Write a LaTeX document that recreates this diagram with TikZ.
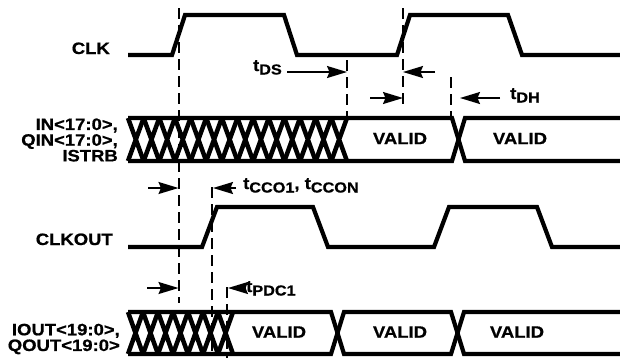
\documentclass[tikz,border=0pt]{standalone}
\usepackage{fontspec}
\setmainfont{Liberation Sans}[FakeStretch=1.12, BoldFeatures={FakeBold=0.8}]
\usetikzlibrary{arrows.meta}

\newcommand{\tname}[1]{t\raisebox{-3.5pt}{\fontsize{14.5}{14.5}\selectfont #1}}

\begin{document}
\begin{tikzpicture}[x=1pt,y=-1pt,
    signal/.style={line width=4.2pt},
    hatch/.style={line width=4.5pt},
    guide/.style={line width=2pt, dash pattern=on 11pt off 6pt},
    dimarrow/.style={line width=1.6pt, -{Stealth[length=20pt,width=12pt,inset=2.5pt]}},
    every node/.style={font=\fontsize{16.5}{15.7}\selectfont\bfseries, inner sep=0pt}]
    \useasboundingbox (0,0) rectangle (620,360);

    % Signal names
    \node[anchor=base east] (clkname) at (110,54) {CLK};
    \node[anchor=east, align=right] (inname) at (118,140) {IN<17:0>,\\QIN<17:0>,\\ISTRB};
    \node[anchor=base east] (clkoutname) at (113,245) {CLKOUT};
    \node[anchor=east, align=right] (outname) at (120,339) {IOUT<19:0>,\\QOUT<19:0>};

    % CLK
    \draw[signal] (128,55) -- (172,55) -- (185,15) -- (284,15) -- (297,55) -- (397,55)
        -- (410,15) -- (508,15) -- (522,55) -- (620,55);

    % IN bus
    \draw[signal] (128,118) -- (452,118) -- (465,161) -- (620,161);
    \draw[signal] (128,161) -- (452,161) -- (465,118) -- (620,118);
    \foreach \i in {0,...,13}
        \draw[hatch] ({128+\i*15.64},118) -- ({128+(\i+1)*15.64},161)
            ({128+\i*15.64},161) -- ({128+(\i+1)*15.64},118);
    \node (invalid1) at (400,138.5) {VALID};
    \node (invalid2) at (520,138.5) {VALID};

    % CLKOUT
    \draw[signal] (128,247) -- (202,247) -- (217,207) -- (313,207) -- (328,247) -- (434,247)
        -- (449,207) -- (537,207) -- (552,247) -- (620,247);

    % IOUT bus
    \draw[signal] (128,312) -- (331,312) -- (344,354) -- (451,354) -- (464,312) -- (620,312);
    \draw[signal] (128,354) -- (331,354) -- (344,312) -- (451,312) -- (464,354) -- (620,354);
    \foreach \i in {0,...,6}
        \draw[hatch] ({128+\i*15},312) -- ({128+(\i+1)*15},354)
            ({128+\i*15},354) -- ({128+(\i+1)*15},312);
    \node (outvalid1) at (279,332) {VALID};
    \node (outvalid2) at (400,332) {VALID};
    \node (outvalid3) at (517,332) {VALID};

    % Guide lines
    \draw[guide] (178.5,8) -- (178.5,303);
    \draw[guide] (403,8) -- (403,108);
    \draw[guide] (347,60) -- (347,117);
    \draw[guide] (451,77) -- (451,117);
    \draw[guide] (212,187) -- (212,352);
    \draw[guide] (227,287) -- (227,358);

    % Timing labels
    \node[anchor=base east] (tds) at (282,71) {\tname{DS}};
    \node[anchor=base west] (tdh) at (510,99) {\tname{DH}};
    \node[anchor=base west] (tcco) at (243,189) {\tname{CCO1}, \tname{CCON}};
    \node[anchor=base west] (tpdc) at (246,292) {\tname{PDC1}};

    % Arrow ends
    \coordinate (dsfrom) at (287,72);
    \coordinate (dsto) at (347,72);
    \coordinate (clkfrom) at (435,72);
    \coordinate (clkto) at (403,72);
    \coordinate (dhfrom) at (370,98);
    \coordinate (dhto) at (403,98);
    \coordinate (dhfrom2) at (500,98);
    \coordinate (dhto2) at (460,98);
    \coordinate (ccofrom) at (148,188);
    \coordinate (ccoto) at (178.5,188);
    \coordinate (ccofrom2) at (236,188);
    \coordinate (ccoto2) at (213,188);
    \coordinate (pdcfrom) at (147,288);
    \coordinate (pdcto) at (178.5,288);
    \coordinate (pdcfrom2) at (246,288);
    \coordinate (pdcto2) at (228,288);

    % Arrows
    \draw[dimarrow] (dsfrom) -- (dsto);
    \draw[dimarrow] (clkfrom) -- (clkto);
    \draw[dimarrow] (dhfrom) -- (dhto);
    \draw[dimarrow] (dhfrom2) -- (dhto2);
    \draw[dimarrow] (ccofrom) -- (ccoto);
    \draw[dimarrow] (ccofrom2) -- (ccoto2);
    \draw[dimarrow] (pdcfrom) -- (pdcto);
    \draw[dimarrow] (pdcfrom2) -- (pdcto2);
\end{tikzpicture}
\end{document}
